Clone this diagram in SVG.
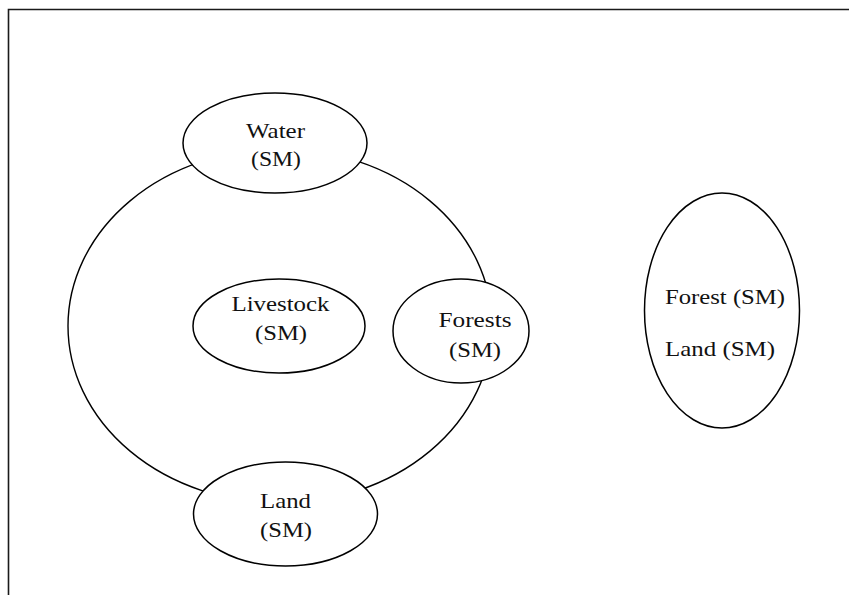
<svg xmlns="http://www.w3.org/2000/svg" width="849" height="595" viewBox="0 0 849 595">
<style>
.frame{fill:none;stroke:#1a1a1a;stroke-width:1.6}
.node{fill:#fff;stroke:#000;stroke-width:1.5}
.ring{fill:none;stroke:#000;stroke-width:1.4}
text{font-family:"Liberation Serif","Times New Roman",serif;font-size:22px;fill:#111}
.c{text-anchor:middle}
</style>
<rect width="849" height="595" fill="#fff"/>
<path class="frame" d="M8.5,595 V9.5 H849"/>
<g id="connectors">
<ellipse class="ring" cx="280" cy="326" rx="212" ry="177"/>
</g>
<g id="water">
<ellipse class="node" cx="275" cy="143" rx="92" ry="50"/>
<text class="c" x="275.5" y="138" textLength="59" lengthAdjust="spacingAndGlyphs">Water</text>
<text class="c" x="276" y="166" textLength="50" lengthAdjust="spacingAndGlyphs">(SM)</text>
</g>
<g id="livestock">
<ellipse class="node" cx="279" cy="326" rx="86" ry="47"/>
<text class="c" x="280.5" y="311" textLength="98" lengthAdjust="spacingAndGlyphs">Livestock</text>
<text class="c" x="281" y="340" textLength="52" lengthAdjust="spacingAndGlyphs">(SM)</text>
</g>
<g id="forests">
<ellipse class="node" cx="461" cy="331" rx="68" ry="52"/>
<text class="c" x="475" y="327" textLength="73" lengthAdjust="spacingAndGlyphs">Forests</text>
<text class="c" x="475" y="357" textLength="52" lengthAdjust="spacingAndGlyphs">(SM)</text>
</g>
<g id="land">
<ellipse class="node" cx="285.5" cy="514" rx="92" ry="52"/>
<text class="c" x="285.5" y="508" textLength="51" lengthAdjust="spacingAndGlyphs">Land</text>
<text class="c" x="286" y="537" textLength="52" lengthAdjust="spacingAndGlyphs">(SM)</text>
</g>
<g id="forest-land">
<ellipse class="node" cx="722" cy="310.5" rx="77.5" ry="117.5"/>
<text x="665" y="304" textLength="120" lengthAdjust="spacingAndGlyphs">Forest (SM)</text>
<text x="665" y="355.5" textLength="110" lengthAdjust="spacingAndGlyphs">Land (SM)</text>
</g>
</svg>
